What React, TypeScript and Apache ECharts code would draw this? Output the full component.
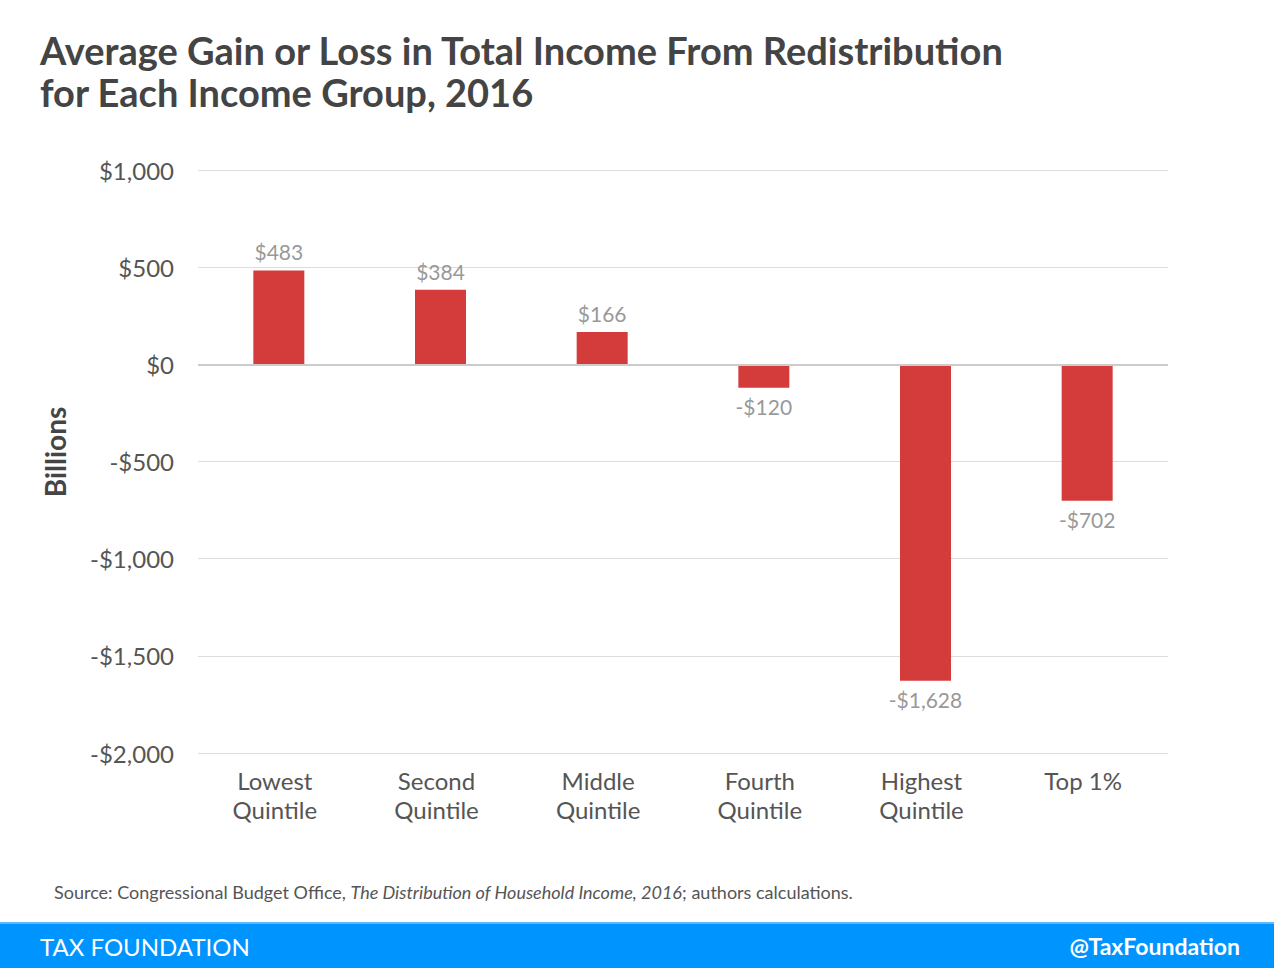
import React, { useEffect, useRef } from "react";
import * as echarts from "echarts";

const categories = ["Lowest\nQuintile", "Second\nQuintile", "Middle\nQuintile", "Fourth\nQuintile", "Highest\nQuintile", "Top 1%"];
const values = [483, 384, 166, -120, -1628, -702];
const yMin = -2000;
const yMax = 1000;
const yInterval = 500;

const fmt = (v: number) => {
  const s = "$" + Math.abs(v).toLocaleString("en-US");
  return v < 0 ? "-" + s : s;
};

export default function App() {
  const ref = useRef<HTMLDivElement>(null);
  useEffect(() => {
    const chart = echarts.init(ref.current!, null, { renderer: "svg" });
    chart.setOption({
      animation: false,
      backgroundColor: "#ffffff",
      textStyle: { fontFamily: "Lato" },
      title: {
        text: "Average Gain or Loss in Total Income From Redistribution\nfor Each Income Group, 2016",
        left: 35,
        top: 24,
        textStyle: { fontFamily: "Lato", fontWeight: "bold", fontSize: 38, lineHeight: 42, color: "#444444" },
      },
      grid: { left: 198, right: 106, top: 170, bottom: 215, containLabel: false },
      xAxis: {
        type: "category",
        data: categories,
        axisLine: { show: false },
        axisTick: { show: false },
        axisLabel: { color: "#555555", fontSize: 24, lineHeight: 29, margin: 13, fontFamily: "Lato", padding: [0, 8, 0, 0] },
      },
      yAxis: {
        type: "value",
        min: yMin,
        max: yMax,
        interval: yInterval,
        axisLine: { show: false },
        axisTick: { show: false },
        axisLabel: { color: "#555555", fontSize: 24, margin: 24, fontFamily: "Lato", formatter: (v: number) => fmt(v) },
        splitLine: { lineStyle: { color: "#dddddd", width: 1 } },
      },
      series: [
        {
          type: "bar",
          barWidth: 51,
          data: values.map((v) => ({
            value: v,
            label: { position: v >= 0 ? "top" : "bottom" },
          })),
          itemStyle: { color: "#d43c3c" },
          label: {
            show: true,
            color: "#999999",
            fontSize: 21,
            distance: 8,
            fontFamily: "Lato",
            formatter: (p: any) => fmt(p.value),
          },
          markLine: {
            silent: true,
            symbol: "none",
            label: { show: false },
            lineStyle: { color: "#cccccc", type: "solid", width: 2 },
            data: [{ yAxis: 0 }],
          },
        },
      ],
      graphic: [
        {
          type: "text",
          x: 55,
          y: 452,
          rotation: Math.PI / 2,
          style: {
            text: "Billions",
            fontFamily: "Lato",
            fontWeight: "bold",
            fontSize: 28,
            fill: "#454545",
            align: "center",
            verticalAlign: "middle",
          },
        },
        {
          type: "text",
          x: 54,
          y: 892,
          style: {
            text: "{n|Source: Congressional Budget Office, }{i|The Distribution of Household Income, 2016}{n|; authors calculations.}",
            verticalAlign: "middle",
            rich: {
              n: { fontFamily: "Lato", fontSize: 18, fill: "#555555" },
              i: { fontFamily: "Lato", fontSize: 18, fontStyle: "italic", fill: "#555555" },
            },
          },
        },
        {
          type: "rect",
          shape: { x: 0, y: 923, width: 1274, height: 45 },
          style: { fill: "#0094ff" },
        },
        {
          type: "rect",
          shape: { x: 0, y: 922, width: 1274, height: 2 },
          style: { fill: "#5cb8ff" },
        },
        {
          type: "text",
          x: 40,
          y: 946,
          style: { text: "TAX FOUNDATION", fontFamily: "Lato", fontSize: 24, fill: "#ffffff", verticalAlign: "middle" },
        },
        {
          type: "text",
          x: 1240,
          y: 946,
          style: { text: "@TaxFoundation", fontFamily: "Lato", fontWeight: "bold", fontSize: 23, fill: "#ffffff", align: "right", verticalAlign: "middle" },
        },
      ],
    });
    return () => chart.dispose();
  }, []);
  return <div ref={ref} style={{ position: "absolute", left: 0, top: 0, width: 1274, height: 968 }} />;
}
